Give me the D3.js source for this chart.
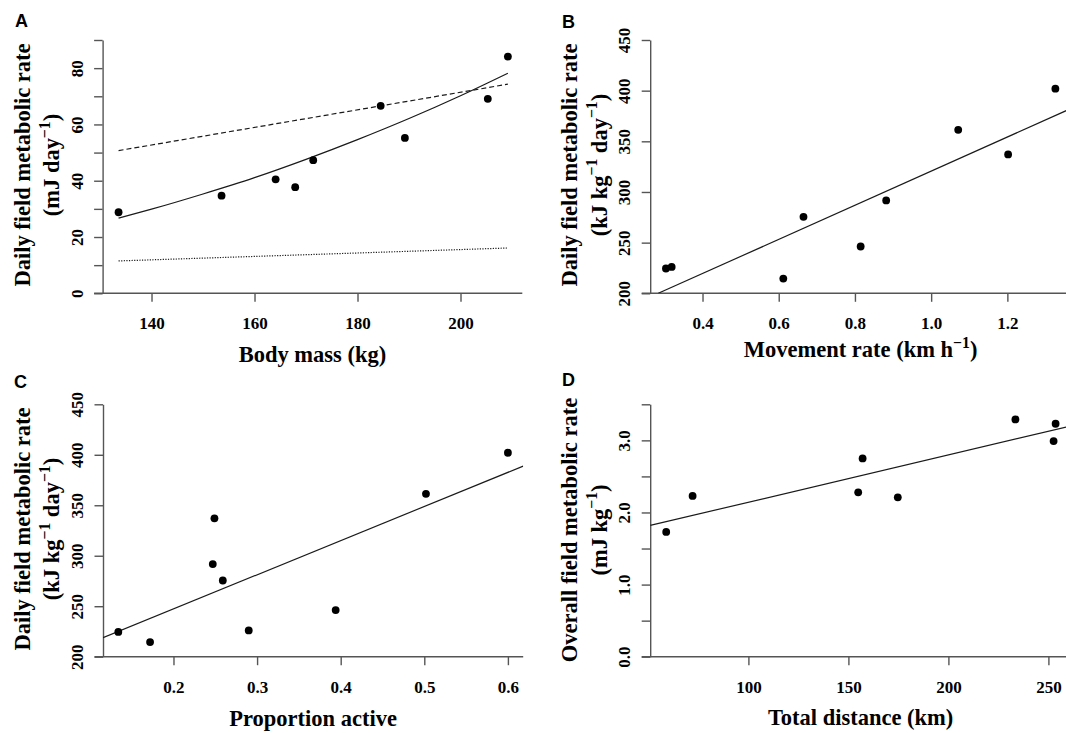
<!DOCTYPE html>
<html>
<head>
<meta charset="utf-8">
<script src="https://cdn.jsdelivr.net/npm/d3@7"></script>
<style>
  html, body { margin: 0; padding: 0; background: #fff; }
  svg { display: block; }
  text { font-family: "Liberation Serif", "Times New Roman", serif; font-weight: bold; fill: #000; }
  text.letter { font-family: "Liberation Sans", Arial, sans-serif; }
</style>
</head>
<body>
<svg id="chart" width="1066" height="733"></svg>
<script>
// ---------- Panel A: daily FMR vs body mass ----------
const massKg      = [133.6, 153.6, 164.1, 167.9, 171.4, 184.5, 189.2, 205.3, 209.2];
const dailyFmrMJ  = [28.8, 34.7, 40.5, 37.7, 47.3, 66.6, 55.2, 69.1, 84.1];
// fitted curve (solid), and the two reference allometries (dashed, dotted)
const massFitSolid  = [[133.6, 26.7], [140, 29.9], [150, 35.3], [160, 41.1], [170, 47.6],
                       [180, 54.6], [190, 62.1], [200, 70.2], [209.2, 78.2]];
const massFitDashed = [[133.6, 50.7], [171.4, 62.5], [209.2, 74.3]];
const massFitDotted = [[133.6, 11.5], [171.4, 13.8], [209.2, 16.1]];
const massTicks     = [140, 160, 180, 200];
const mjTicks       = [0, 10, 20, 30, 40, 50, 60, 70, 80, 90];
const mjTickLabels  = [0, 20, 40, 60, 80];

// ---------- Panels B & C: mass-specific daily FMR ----------
const dailyFmrKg   = [224.5, 226.0, 214.5, 275.5, 246.2, 291.7, 361.3, 337.1, 402.0];
const movementRate = [0.304, 0.319, 0.612, 0.665, 0.815, 0.882, 1.071, 1.202, 1.326];
const propActive   = [0.134, 0.290, 0.172, 0.259, 0.394, 0.247, 0.502, 0.249, 0.600];
const movementFit  = [[0.284, 200], [1.367, 382.4]];
const activeFit    = [[0.1157, 218.8], [0.6183, 388.8]];
const kjTicks      = [200, 250, 300, 350, 400, 450];
const movementTicks = [0.4, 0.6, 0.8, 1.0, 1.2];
const activeTicks   = [0.2, 0.3, 0.4, 0.5, 0.6];

// ---------- Panel D: overall FMR vs total distance ----------
const totalDistance = [58.9, 72.1, 154.9, 157.1, 174.7, 233.5, 253.6, 252.6];
const overallFmr    = [1.73, 2.23, 2.28, 2.75, 2.21, 3.29, 3.23, 2.99];
const distanceFit   = [[50.9, 1.82], [261.3, 3.20]];
const distanceTicks = [100, 150, 200, 250];
const overallTicks  = [0, 0.5, 1, 1.5, 2, 2.5, 3, 3.5];
const overallTickLabels = [0, 1, 2, 3];

// ---------- drawing ----------
const W = 1066, H = 733;
const AXIS_COLOR = "#555";
const AXIS_W = 1.4;
const TICK = 8.5;
const TICK_FS = 17;
const TITLE_FS = 22.5;

const svg = d3.select("#chart");
svg.append("rect").attr("width", W).attr("height", H).attr("fill", "#fff");
const defs = svg.append("defs");

// writes text with optional superscript pieces into a <text>
function richText(textSel, parts, fs) {
  let back = 0;
  parts.forEach(p => {
    if (p.sup) {
      textSel.append("tspan").attr("font-size", fs * 0.7).attr("dy", -fs * 0.42).text(p.t);
      back = fs * 0.42;
    } else {
      const t = textSel.append("tspan").attr("font-size", fs).text(p.t);
      if (back) { t.attr("dy", back); back = 0; }
    }
  });
}

function drawPanel(cfg) {
  const x = d3.scaleLinear().domain(cfg.xDomain).range(cfg.xRange);
  const y = d3.scaleLinear().domain(cfg.yDomain).range(cfg.yRange);
  const g = svg.append("g");
  const x0 = cfg.xRange[0], x1 = cfg.xRange[1];
  const yb = cfg.yRange[0], yt = cfg.yRange[1];

  const clipId = "clip-" + cfg.id;
  defs.append("clipPath").attr("id", clipId)
    .append("rect").attr("x", x0).attr("y", yt).attr("width", x1 - x0).attr("height", yb - yt);

  // y axis
  const yAx = g.append("g").attr("transform", `translate(${x0},0)`)
    .call(d3.axisLeft(y).tickValues(cfg.yTicks).tickSize(TICK).tickSizeOuter(0)
      .tickFormat(d => cfg.yLabels.includes(d) ? cfg.yFmt(d) : ""));
  yAx.attr("font-family", null).attr("font-size", null).attr("color", AXIS_COLOR);
  yAx.select(".domain").attr("stroke-width", AXIS_W);
  yAx.selectAll(".tick line").attr("stroke-width", AXIS_W);
  yAx.selectAll(".tick text")
    .attr("fill", "#000").attr("font-size", TICK_FS)
    .attr("transform", "rotate(-90)").attr("x", 0).attr("y", -20).attr("dy", null)
    .attr("text-anchor", "middle");

  // x axis
  const xAx = g.append("g").attr("transform", `translate(0,${yb})`)
    .call(d3.axisBottom(x).tickValues(cfg.xTicks).tickSize(TICK).tickSizeOuter(0)
      .tickFormat(cfg.xFmt));
  xAx.attr("font-family", null).attr("font-size", null).attr("color", AXIS_COLOR);
  xAx.select(".domain").remove();
  xAx.append("line").attr("x1", x0 - TICK).attr("x2", x1).attr("y1", 0).attr("y2", 0)
    .attr("stroke", "currentColor").attr("stroke-width", AXIS_W);
  xAx.selectAll(".tick line").attr("stroke-width", AXIS_W);
  xAx.selectAll(".tick text")
    .attr("fill", "#000").attr("font-size", TICK_FS)
    .attr("y", 36).attr("dy", null);

  // fitted lines
  const line = d3.line().x(d => x(d[0])).y(d => y(d[1]));
  const lg = g.append("g").attr("clip-path", `url(#${clipId})`);
  cfg.fits.forEach(f => {
    lg.append("path").datum(f.data)
      .attr("d", f.curve ? line.curve(d3.curveMonotoneX)(f.data) : line.curve(d3.curveLinear)(f.data))
      .attr("fill", "none").attr("stroke", "#1a1a1a").attr("stroke-width", 1.2)
      .attr("stroke-dasharray", f.dash || null);
  });

  // points
  g.append("g").selectAll("circle").data(cfg.xs.map((v, i) => [v, cfg.ys[i]]))
    .join("circle")
    .attr("cx", d => x(d[0])).attr("cy", d => y(d[1])).attr("r", 3.9).attr("fill", "#000");

  // axis titles
  const xt = g.append("text").attr("x", (x0 + x1) / 2).attr("y", cfg.xTitleY)
    .attr("text-anchor", "middle");
  richText(xt, cfg.xTitle, TITLE_FS);

  const cy = cfg.yTitleCenter;
  const yt1 = g.append("text").attr("text-anchor", "middle")
    .attr("transform", `translate(${x0 - 73},${cy}) rotate(-90)`);
  richText(yt1, cfg.yTitle1, TITLE_FS);
  const yt2 = g.append("text").attr("text-anchor", "middle")
    .attr("transform", `translate(${x0 - 43.6},${cy}) rotate(-90)`);
  richText(yt2, cfg.yTitle2, TITLE_FS);

  // panel letter
  g.append("text").attr("class", "letter").attr("x", cfg.letterXY[0]).attr("y", cfg.letterXY[1])
    .attr("font-size", 18).text(cfg.letter);
}

const fmt1 = d3.format(".1f");
const fmt0 = d3.format("d");

drawPanel({
  id: "a", letter: "A", letterXY: [15, 27],
  xDomain: [130.5, 212.0], xRange: [102.6, 522.3],
  yDomain: [0, 90], yRange: [293.3, 40],
  xTicks: massTicks, xFmt: fmt0,
  yTicks: mjTicks, yLabels: mjTickLabels, yFmt: fmt0,
  xs: massKg, ys: dailyFmrMJ,
  fits: [
    { data: massFitSolid, curve: true },
    { data: massFitDashed, dash: "5,3" },
    { data: massFitDotted, dash: "1.2,1.4" }
  ],
  xTitle: [{ t: "Body mass (kg)" }], xTitleY: 362,
  yTitle1: [{ t: "Daily field metabolic rate" }],
  yTitle2: [{ t: "(mJ day" }, { t: "\u22121", sup: true }, { t: ")" }],
  yTitleCenter: 165
});

drawPanel({
  id: "b", letter: "B", letterXY: [562, 28],
  xDomain: [0.2627, 1.367], xRange: [650.2, 1071],
  yDomain: [200, 450], yRange: [293.3, 40],
  xTicks: movementTicks, xFmt: fmt1,
  yTicks: kjTicks, yLabels: kjTicks, yFmt: fmt0,
  xs: movementRate, ys: dailyFmrKg,
  fits: [{ data: movementFit }],
  xTitle: [{ t: "Movement rate (km h" }, { t: "\u22121", sup: true }, { t: ")" }], xTitleY: 357,
  yTitle1: [{ t: "Daily field metabolic rate" }],
  yTitle2: [{ t: "(kJ kg" }, { t: "\u22121", sup: true }, { t: " day" }, { t: "\u22121", sup: true }, { t: ")" }],
  yTitleCenter: 165
});

drawPanel({
  id: "c", letter: "C", letterXY: [14, 388],
  xDomain: [0.1157, 0.6183], xRange: [103, 523.2],
  yDomain: [200, 450], yRange: [656.7, 404.3],
  xTicks: activeTicks, xFmt: fmt1,
  yTicks: kjTicks, yLabels: kjTicks, yFmt: fmt0,
  xs: propActive, ys: dailyFmrKg,
  fits: [{ data: activeFit }],
  xTitle: [{ t: "Proportion active" }], xTitleY: 726,
  yTitle1: [{ t: "Daily field metabolic rate" }],
  yTitle2: [{ t: "(kJ kg" }, { t: "\u22121", sup: true }, { t: " day" }, { t: "\u22121", sup: true }, { t: ")" }],
  yTitleCenter: 529
});

drawPanel({
  id: "d", letter: "D", letterXY: [562, 386],
  xDomain: [50.9, 261.3], xRange: [650.2, 1071],
  yDomain: [0, 3.5], yRange: [656.7, 404.3],
  xTicks: distanceTicks, xFmt: fmt0,
  yTicks: overallTicks, yLabels: overallTickLabels, yFmt: fmt1,
  xs: totalDistance, ys: overallFmr,
  fits: [{ data: distanceFit }],
  xTitle: [{ t: "Total distance (km)" }], xTitleY: 725,
  yTitle1: [{ t: "Overall field metabolic rate" }],
  yTitle2: [{ t: "(mJ kg" }, { t: "\u22121", sup: true }, { t: ")" }],
  yTitleCenter: 530
});
</script>
</body>
</html>
